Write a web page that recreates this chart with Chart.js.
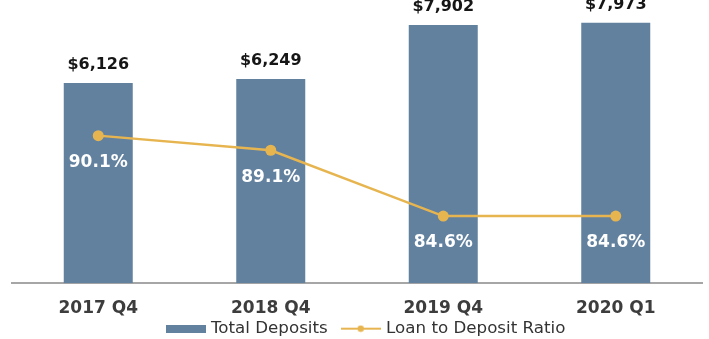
<!DOCTYPE html>
<html>
<head>
<meta charset="utf-8">
<script src="https://cdn.jsdelivr.net/npm/chart.js@4.4.1/dist/chart.umd.min.js"></script>
<style>
  html, body { margin: 0; padding: 0; background: #ffffff; }
  #wrap { width: 709px; height: 339px; }
</style>
</head>
<body>
<div id="wrap"><canvas id="c" width="709" height="339"></canvas></div>
<script>
// Quarter-end categories
const categories = ['2017 Q4', '2018 Q4', '2019 Q4', '2020 Q1'];
// Total deposits ($ millions)
const totalDeposits = [6126, 6249, 7902, 7973];
// Loan to deposit ratio (%)
const loanToDeposit = [90.1, 89.1, 84.6, 84.6];

const BAR_COLOR = '#62819f';
const LINE_COLOR = '#e7b550';
const FONT = '"DejaVu Sans", Verdana, sans-serif';

// Legend swatches drawn as small canvases
function swatchBar() {
  const c = document.createElement('canvas');
  c.width = 40; c.height = 8;
  const g = c.getContext('2d');
  g.fillStyle = BAR_COLOR;
  g.fillRect(0, 0, 40, 8);
  return c;
}
function swatchLine() {
  const c = document.createElement('canvas');
  c.width = 40; c.height = 8;
  const g = c.getContext('2d');
  g.strokeStyle = LINE_COLOR;
  g.lineWidth = 2;
  g.beginPath(); g.moveTo(0, 4); g.lineTo(40, 4); g.stroke();
  g.fillStyle = LINE_COLOR;
  g.beginPath(); g.arc(20, 4, 3.2, 0, Math.PI * 2); g.fill();
  return c;
}

// Value labels: dollar amounts above bars, ratios below the line points
const valueLabels = {
  id: 'valueLabels',
  afterDatasetsDraw(chart) {
    const ctx = chart.ctx;
    ctx.save();
    ctx.textAlign = 'center';
    ctx.textBaseline = 'middle';
    const barMeta = chart.getDatasetMeta(0);
    ctx.font = 'bold 16px ' + FONT;
    ctx.fillStyle = '#161616';
    barMeta.data.forEach((el, i) => {
      const v = totalDeposits[i];
      ctx.fillText('$' + v.toLocaleString('en-US'), el.x, el.y - 18);
    });
    const lineMeta = chart.getDatasetMeta(1);
    ctx.font = 'bold 17px ' + FONT;
    ctx.fillStyle = '#ffffff';
    lineMeta.data.forEach((el, i) => {
      ctx.fillText(loanToDeposit[i].toFixed(1) + '%', el.x, el.y + 27);
    });
    ctx.restore();
  }
};

// Nudge the legend row a little to the right of the plot centre
const legendShift = {
  id: 'legendShift',
  afterLayout(chart) {
    if (chart.legend) {
      chart.legend.left += 10;
      chart.legend.right += 10;
    }
  }
};

new Chart(document.getElementById('c'), {
  data: {
    labels: categories,
    datasets: [
      {
        type: 'bar',
        label: 'Total Deposits',
        data: totalDeposits,
        backgroundColor: BAR_COLOR,
        yAxisID: 'y',
        barPercentage: 0.4,
        categoryPercentage: 1.0,
        order: 2
      },
      {
        type: 'line',
        label: 'Loan to Deposit Ratio',
        data: loanToDeposit,
        borderColor: LINE_COLOR,
        backgroundColor: LINE_COLOR,
        borderWidth: 2.5,
        pointRadius: 5.5,
        pointHoverRadius: 5.5,
        pointBackgroundColor: LINE_COLOR,
        pointBorderWidth: 0,
        tension: 0,
        yAxisID: 'y2',
        order: 1
      }
    ]
  },
  options: {
    responsive: false,
    animation: false,
    events: [],
    layout: { padding: { left: 12, right: 7, top: 2, bottom: -8 } },
    scales: {
      x: {
        grid: { display: false, drawTicks: false },
        border: { display: true, color: '#a6a6a6', width: 2 },
        ticks: {
          color: '#3d3d3d',
          font: { family: FONT, size: 17, weight: 'bold' },
          mirror: true,
          padding: -35
        },
        afterFit(scale) { scale.height = 21; }
      },
      y: { display: false, min: 0, max: 8500 },
      y2: { display: false, min: 80, max: 99, position: 'right' }
    },
    plugins: {
      tooltip: { enabled: false },
      legend: {
        position: 'bottom',
        labels: {
          usePointStyle: true,
          pointStyleWidth: 34,
          boxHeight: 8,
          padding: 16,
          color: '#333333',
          font: { family: FONT, size: 16.7 },
          generateLabels(chart) {
            return [
              { text: 'Total Deposits', pointStyle: swatchBar(), fillStyle: BAR_COLOR, strokeStyle: BAR_COLOR, lineWidth: 0, datasetIndex: 0, fontColor: '#333333' },
              { text: 'Loan to Deposit Ratio', pointStyle: swatchLine(), fillStyle: LINE_COLOR, strokeStyle: LINE_COLOR, lineWidth: 0, datasetIndex: 1, fontColor: '#333333' }
            ];
          }
        }
      }
    }
  },
  plugins: [valueLabels, legendShift]
});
</script>
</body>
</html>
